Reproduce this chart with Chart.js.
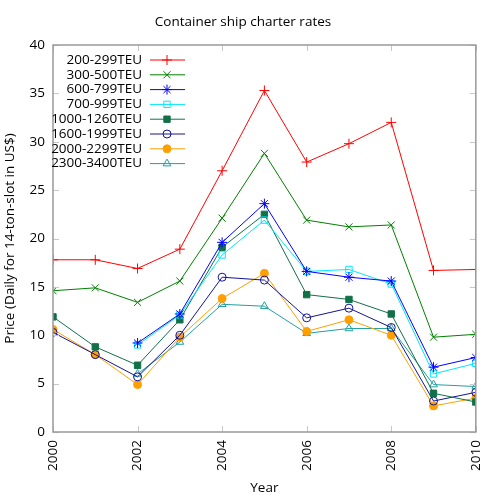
<!DOCTYPE html>
<html>
<head>
<meta charset="utf-8">
<script src="https://cdn.jsdelivr.net/npm/chart.js@4"></script>
<style>
  html, body { margin: 0; padding: 0; background: #fff; }
  #wrap { width: 500px; height: 500px; }
</style>
</head>
<body>
<div id="wrap"><canvas id="rates" width="500" height="500"></canvas></div>
<script>
// years on the x axis
const years = [2000, 2001, 2002, 2003, 2004, 2005, 2006, 2007, 2008, 2009, 2010];

// series values (daily, US$ per 14-ton slot)
const teu200 = [17.8, 17.8, 16.9, 18.9, 27.0, 35.3, 27.9, 29.8, 32.0, 16.7, 16.8];
const teu300 = [14.6, 14.9, 13.4, 15.6, 22.1, 28.8, 21.9, 21.2, 21.4, 9.8, 10.1];
const teu600 = [null, null, 9.2, 12.2, 19.6, 23.6, 16.6, 16.0, 15.6, 6.7, 7.7];
const teu700 = [null, null, 9.0, 12.1, 18.3, 21.9, 16.6, 16.8, 15.3, 6.0, 7.1];
const teu1000 = [11.9, 8.8, 6.9, 11.6, 19.1, 22.5, 14.2, 13.7, 12.2, 4.0, 3.1];
const teu1600 = [10.3, 8.0, 5.7, 10.0, 16.0, 15.7, 11.8, 12.8, 10.8, 3.2, 4.1];
const teu2000 = [10.6, 8.0, 4.9, 9.8, 13.8, 16.4, 10.4, 11.6, 10.0, 2.7, 3.5];
const teu2300 = [null, null, 6.0, 9.3, 13.2, 13.0, 10.2, 10.7, 10.7, 4.9, 4.7];

const seriesNames = ['200-299TEU', '300-500TEU', '600-799TEU', '700-999TEU',
  '1000-1260TEU', '1600-1999TEU', '2000-2299TEU', '2300-3400TEU'];
const seriesValues = [teu200, teu300, teu600, teu700, teu1000, teu1600, teu2000, teu2300];

const xTicks = [2000, 2002, 2004, 2006, 2008, 2010];

const FONT = '"Open Sans", "Noto Sans", sans-serif';

// look of each series: colour, marker, filled?
const styles = [
  { color: 'rgb(255,0,0)', point: 'cross', fill: false, r: 5 },
  { color: 'rgb(0,128,0)', point: 'crossRot', fill: false, r: 5 },
  { color: 'rgb(0,0,255)', point: 'star', fill: false, r: 5 },
  { color: 'rgb(0,230,255)', point: 'rect', fill: false, r: 4.5 },
  { color: 'rgb(18,112,72)', point: 'rect', fill: true, r: 4.5 },
  { color: 'rgb(20,20,150)', point: 'circle', fill: false, r: 4 },
  { color: 'rgb(255,160,0)', point: 'circle', fill: true, r: 4 },
  { color: 'rgb(32,160,160)', point: 'triangle', fill: false, r: 4.5 },
];

const datasets = seriesNames.map((name, i) => ({
  label: name,
  data: years.map((yr, j) => ({ x: yr, y: seriesValues[i][j] })),
  borderColor: styles[i].color,
  borderWidth: 1,
  pointStyle: styles[i].point,
  pointRadius: styles[i].r,
  pointBorderWidth: 1,
  pointBorderColor: styles[i].color,
  pointBackgroundColor: styles[i].fill ? styles[i].color : 'rgba(0,0,0,0)',
  spanGaps: false,
  tension: 0,
}));

// drawPoint uses current fill/stroke style, so set them before each marker
const legendMarker = (ctx, ds, x, y) => {
  ctx.fillStyle = ds.pointBackgroundColor;
  ctx.strokeStyle = ds.borderColor;
  ctx.lineWidth = 1;
  Chart.helpers.drawPoint(ctx, { pointStyle: ds.pointStyle, radius: ds.pointRadius, rotation: 0, borderWidth: 1 }, x, y);
};

// gnuplot-like frame with inward ticks and a legend in the top-left
const framePlugin = {
  id: 'frame',
  afterDatasetsDraw(chart) {
    const ctx = chart.ctx;
    const a = chart.chartArea;
    const xs = chart.scales.x, ys = chart.scales.y;
    ctx.save();
    ctx.strokeStyle = '#c8c8c8';
    ctx.lineWidth = 1;
    ctx.beginPath();
    xTicks.forEach(v => {
      const px = Math.round(xs.getPixelForValue(v)) + 0.5;
      ctx.moveTo(px, a.bottom); ctx.lineTo(px, a.bottom - 6);
      ctx.moveTo(px, a.top); ctx.lineTo(px, a.top + 6);
    });
    for (let v = 0; v <= 40; v += 5) {
      const py = Math.round(ys.getPixelForValue(v)) + 0.5;
      ctx.moveTo(a.left, py); ctx.lineTo(a.left + 6, py);
      ctx.moveTo(a.right, py); ctx.lineTo(a.right - 6, py);
    }
    ctx.stroke();
    ctx.strokeStyle = '#999';
    ctx.lineWidth = 1.5;
    ctx.strokeRect(a.left, a.top, a.right - a.left, a.bottom - a.top);

    ctx.font = '13.5px ' + FONT;
    ctx.textAlign = 'right';
    ctx.textBaseline = 'middle';
    chart.data.datasets.forEach((ds, i) => {
      const y = 60 + i * 14.8;
      ctx.fillStyle = '#000';
      ctx.fillText(ds.label, 142, y);
      ctx.strokeStyle = ds.borderColor;
      ctx.lineWidth = 1;
      ctx.beginPath();
      ctx.moveTo(150, y); ctx.lineTo(185, y);
      ctx.stroke();
      legendMarker(ctx, ds, 167, y);
    });
    ctx.restore();
  }
};

const ctxRates = document.getElementById('rates').getContext('2d');
new Chart(ctxRates, {
  type: 'line',
  data: { datasets: datasets },
  plugins: [framePlugin],
  options: {
    responsive: false,
    animation: false,
    layout: { padding: { left: 0, right: 14, top: 0, bottom: 0 } },
    plugins: {
      legend: { display: false },
      tooltip: { enabled: false },
      title: {
        display: true,
        text: 'Container ship charter rates',
        color: '#000',
        font: { family: FONT, size: 13.5, weight: 'normal' },
        padding: { top: 14, bottom: 14.8 },
      },
    },
    scales: {
      x: {
        type: 'linear',
        min: 2000,
        max: 2010,
        afterFit: s => { s.height = 68; },
        afterBuildTicks: s => { s.ticks = xTicks.map(v => ({ value: v })); },
        grid: { display: false, drawTicks: false },
        border: { display: false },
        ticks: {
          color: '#000',
          font: { family: FONT, size: 13.5 },
          minRotation: 90,
          maxRotation: 90,
          padding: 8,
          callback: v => String(v),
        },
        title: {
          display: true,
          text: 'Year',
          color: '#000',
          font: { family: FONT, size: 13.5 },
          padding: { top: 0, bottom: 4 },
        },
      },
      y: {
        min: 0,
        max: 40,
        afterFit: s => { s.width = 53; },
        grid: { display: false, drawTicks: false },
        border: { display: false },
        ticks: {
          stepSize: 5,
          color: '#000',
          font: { family: FONT, size: 13.5 },
          padding: 8,
        },
        title: {
          display: true,
          text: 'Price (Daily for 14-ton-slot in US$)',
          color: '#000',
          font: { family: FONT, size: 13.5 },
          padding: { top: 2, bottom: 0 },
        },
      },
    },
  },
});
</script>
</body>
</html>
